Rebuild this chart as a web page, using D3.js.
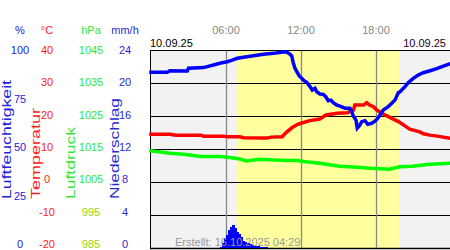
<!DOCTYPE html>
<html>
<head>
<meta charset="utf-8">
<script src="https://cdn.jsdelivr.net/npm/d3@7"></script>
<style>
  body { margin: 0; background: #fff; }
  svg text { font-family: 'Liberation Sans', Arial, sans-serif; }
</style>
</head>
<body>
<div id="chart-area"></div>
<script>
  // each point is [hour of day, value]
  var humidity = [
    [0, 88.7], [1.3, 88.7], [1.5, 89.5], [2.9, 89.4], [3.0, 90.8], [4.2, 91.1],
    [4.5, 91.6], [5.3, 92.9], [5.7, 93.6], [6.1, 94.1], [6.5, 94.9], [6.9, 95.8],
    [7.4, 96.3], [8.2, 97.1], [9.0, 97.8], [9.8, 98.3], [10.6, 99.0], [10.8, 99.1],
    [11.1, 98.0], [11.26, 97.0], [11.38, 93.6], [11.52, 90.8], [11.7, 88.7],
    [11.86, 86.9], [12.06, 85.7], [12.24, 84.5], [12.46, 83.7], [12.72, 81.5],
    [12.9, 79.8], [13.12, 80.7], [13.26, 78.9], [13.52, 77.8], [13.78, 77.6],
    [13.98, 76.4], [14.18, 74.4], [14.4, 74.7], [14.58, 73.4], [14.86, 72.2],
    [15.12, 71.7], [15.52, 70.6], [15.92, 70.6], [16.06, 68.8], [16.18, 66.7],
    [16.4, 64.6], [16.5, 60.5], [16.66, 61.6], [16.86, 63.8], [17.12, 64.3],
    [17.34, 62.5], [17.66, 63.0], [17.92, 64.1], [18.1, 65.2], [18.32, 67.2],
    [18.58, 69.7], [18.98, 71.4], [19.26, 73.1], [19.52, 74.7], [19.78, 78.4],
    [19.92, 78.9], [20.32, 81.5], [20.58, 83.5], [20.98, 85.7], [21.38, 87.4],
    [21.78, 88.5], [22.32, 89.5], [22.86, 90.6], [23.38, 91.9], [23.84, 92.9], [24, 93.2]
  ];

  var temperature = [
    [0, 14.5], [1.5, 14.5], [2, 14.2], [4, 14.2], [4.2, 13.9], [5.8, 13.9],
    [6.1, 13.7], [7.1, 13.7], [7.4, 13.4], [9.3, 13.3], [9.6, 13.6], [10.5, 13.7],
    [10.6, 14.2], [10.9, 15.3], [11.3, 16.5], [11.7, 17.4], [12.0, 17.8],
    [12.7, 18.6], [13.5, 19.1], [14.0, 20.3], [14.9, 20.8], [15.7, 21.0],
    [16.2, 21.8], [16.3, 23.3], [17.0, 23.3], [17.26, 24.0], [17.5, 23.3],
    [17.8, 22.8], [18.06, 21.8], [18.58, 20.6], [19.1, 19.6], [19.8, 18.3],
    [20.7, 16.0], [21.5, 15.2], [21.8, 14.6], [22.3, 14.2], [22.9, 13.9], [24, 13.2]
  ];

  var pressure = [
    [0, 1014.4], [0.8, 1014.1], [1.5, 1013.7], [2.6, 1013.4], [4.0, 1012.7],
    [5.5, 1012.7], [6.3, 1012.4], [7.1, 1012.0], [7.6, 1011.4], [8.7, 1011.9],
    [9.8, 1011.7], [10.9, 1011.5], [11.7, 1011.5], [12.2, 1011.2], [13.5, 1010.7],
    [15.1, 1009.8], [16.5, 1009.5], [17.5, 1009.2], [19.1, 1008.9], [19.9, 1009.6],
    [20.9, 1009.8], [22.3, 1010.4], [24, 1010.7]
  ];

  // 10 minute steps, mm/h
  var precipitation = [
    [5.5, 0.15], [5.67, 0.6], [5.83, 1.2], [6.0, 1.6], [6.17, 2.2], [6.33, 2.6],
    [6.5, 2.8], [6.67, 2.4], [6.83, 2.0], [7.0, 1.7], [7.17, 1.3], [7.33, 0.9],
    [7.5, 0.7], [7.67, 0.6], [7.83, 0.45], [8.0, 0.35], [8.17, 0.25], [8.33, 0.2],
    [8.5, 0.2], [8.67, 0.15], [8.83, 0.15], [9.0, 0.1], [9.17, 0.1], [9.33, 0.05]
  ];

  var sunrise = 6.85;
  var sunset = 19.86;

  var hourTicks = [6, 12, 18];
  var humidityTicks = [0, 25, 50, 75, 100];
  var temperatureTicks = [-20, -10, 0, 10, 20, 30, 40];
  var pressureTicks = [985, 995, 1005, 1015, 1025, 1035, 1045];
  var precipTicks = [0, 4, 8, 12, 16, 20, 24];

  var dateLabel = '10.09.25';
  var createdLabel = 'Erstellt: 16.10.2025 04:29';

  var width = 450;
  var height = 250;
  var plot = { left: 151, right: 451, top: 50, bottom: 248 };

  var svg = d3.select('#chart-area')
    .append('svg')
      .attr('width', width)
      .attr('height', height);

  // scales
  var x = d3.scaleLinear().domain([0, 24]).range([plot.left, plot.right]);
  var yHum = d3.scaleLinear().domain([0, 100]).range([plot.bottom, plot.top]);
  var yTemp = d3.scaleLinear().domain([-20, 40]).range([plot.bottom, plot.top]);
  var yPres = d3.scaleLinear().domain([985, 1045]).range([plot.bottom, plot.top]);
  var yRain = d3.scaleLinear().domain([0, 24]).range([plot.bottom, plot.top]);

  // plot background and daylight band
  svg.append('rect')
    .attr('x', plot.left - 1)
    .attr('y', plot.top)
    .attr('width', width - plot.left + 1)
    .attr('height', plot.bottom - plot.top)
    .attr('fill', '#f2f2f2');

  svg.append('rect')
    .attr('x', x(sunrise))
    .attr('y', plot.top)
    .attr('width', x(sunset) - x(sunrise))
    .attr('height', plot.bottom - plot.top)
    .attr('fill', '#ffffa0');

  // horizontal grid lines, one per temperature tick
  svg.append('g')
    .selectAll('line')
    .data(temperatureTicks)
    .enter()
    .append('line')
      .attr('x1', plot.left - 1)
      .attr('x2', width)
      .attr('y1', d => Math.round(yTemp(d)) + 0.5)
      .attr('y2', d => Math.round(yTemp(d)) + 0.5)
      .attr('stroke', '#000')
      .attr('stroke-width', d => d === -20 ? 1.5 : 1);

  // left border
  svg.append('line')
    .attr('x1', plot.left - 0.5)
    .attr('x2', plot.left - 0.5)
    .attr('y1', plot.top)
    .attr('y2', plot.bottom + 1)
    .attr('stroke', '#000');

  // vertical hour lines
  svg.append('g')
    .selectAll('line')
    .data(hourTicks)
    .enter()
    .append('line')
      .attr('x1', d => Math.round(x(d)) + 0.5)
      .attr('x2', d => Math.round(x(d)) + 0.5)
      .attr('y1', plot.top + 1)
      .attr('y2', plot.bottom)
      .attr('stroke', '#888')
      .attr('stroke-width', 1.3);

  // data lines
  function drawLine(data, yScale, color) {
    var line = d3.line()
      .x(d => x(d[0]))
      .y(d => yScale(d[1]));
    svg.append('path')
      .datum(data)
      .attr('d', line)
      .attr('fill', 'none')
      .attr('stroke', color)
      .attr('stroke-width', 3.5)
      .attr('stroke-linejoin', 'miter')
      .attr('stroke-linecap', 'square');
  }

  drawLine(pressure, yPres, '#00ff00');
  drawLine(temperature, yTemp, '#ff0000');
  drawLine(humidity, yHum, '#0000ff');

  // precipitation bars (slightly overlapping so they read as one area)
  svg.append('g')
    .selectAll('rect')
    .data(precipitation)
    .enter()
    .append('rect')
      .attr('x', d => x(d[0]))
      .attr('width', x(1 / 6) - x(0) + 0.6)
      .attr('y', d => yRain(d[1]))
      .attr('height', d => plot.bottom - yRain(d[1]))
      .attr('fill', '#0000ff')
      .attr('shape-rendering', 'crispEdges');

  // created stamp
  svg.append('text')
    .attr('x', 175)
    .attr('y', 245.5)
    .attr('font-size', '11px')
    .attr('fill', '#999')
    .text(createdLabel);

  // hour labels on top
  svg.append('g')
    .selectAll('text')
    .data(hourTicks)
    .enter()
    .append('text')
      .attr('x', d => x(d))
      .attr('y', 34)
      .attr('text-anchor', 'middle')
      .attr('font-size', '11px')
      .attr('fill', '#888')
      .text(d => d3.format('02')(d) + ':00');

  // date labels
  svg.append('text')
    .attr('x', 150)
    .attr('y', 47)
    .attr('font-size', '11px')
    .attr('fill', '#000')
    .text(dateLabel);

  svg.append('text')
    .attr('x', 446)
    .attr('y', 47)
    .attr('font-size', '11px')
    .attr('text-anchor', 'end')
    .attr('fill', '#202')
    .text(dateLabel);

  // value axes on the left; labels sit a bit higher near the bottom
  function drawAxis(ticks, cx, color, unit, title, titleX, titleLen, colorFn) {
    var labelScale = d3.scaleLinear()
      .domain(d3.extent(ticks))
      .range([244, 50]);

    var axis = d3.axisLeft(labelScale)
      .tickValues(ticks)
      .tickFormat(d => String(d))
      .tickSize(0)
      .tickPadding(0);

    var g = svg.append('g')
      .attr('transform', 'translate(' + cx + ',0)')
      .call(axis);

    g.select('.domain').remove();
    g.attr('font-size', '11px')
      .attr('font-family', "'Liberation Sans', Arial, sans-serif")
      .attr('text-anchor', 'middle');
    g.selectAll('text')
      .attr('fill', d => colorFn ? colorFn(d) : color);

    svg.append('text')
      .attr('x', cx)
      .attr('y', 34)
      .attr('text-anchor', 'middle')
      .attr('font-size', '11px')
      .attr('fill', color)
      .text(unit);

    svg.append('text')
      .attr('transform', 'translate(' + titleX + ',199) rotate(-90)')
      .attr('font-size', '12px')
      .attr('textLength', titleLen)
      .attr('lengthAdjust', 'spacingAndGlyphs')
      .attr('fill', color)
      .text(title);
  }

  drawAxis(humidityTicks, 20, '#2222dd', '%', 'Luftfeuchtigkeit', 10.5, 119);
  drawAxis(temperatureTicks, 47, '#ff1a1a', '°C', 'Temperatur', 40, 91);
  drawAxis(pressureTicks, 91, '#33e633', 'hPa', 'Luftdruck', 75, 72,
    d => d < 1000 ? '#99d400' : '#33e633');
  drawAxis(precipTicks, 125, '#2a2ad4', 'mm/h', 'Niederschlag', 118.5, 101);
</script>
</body>
</html>
